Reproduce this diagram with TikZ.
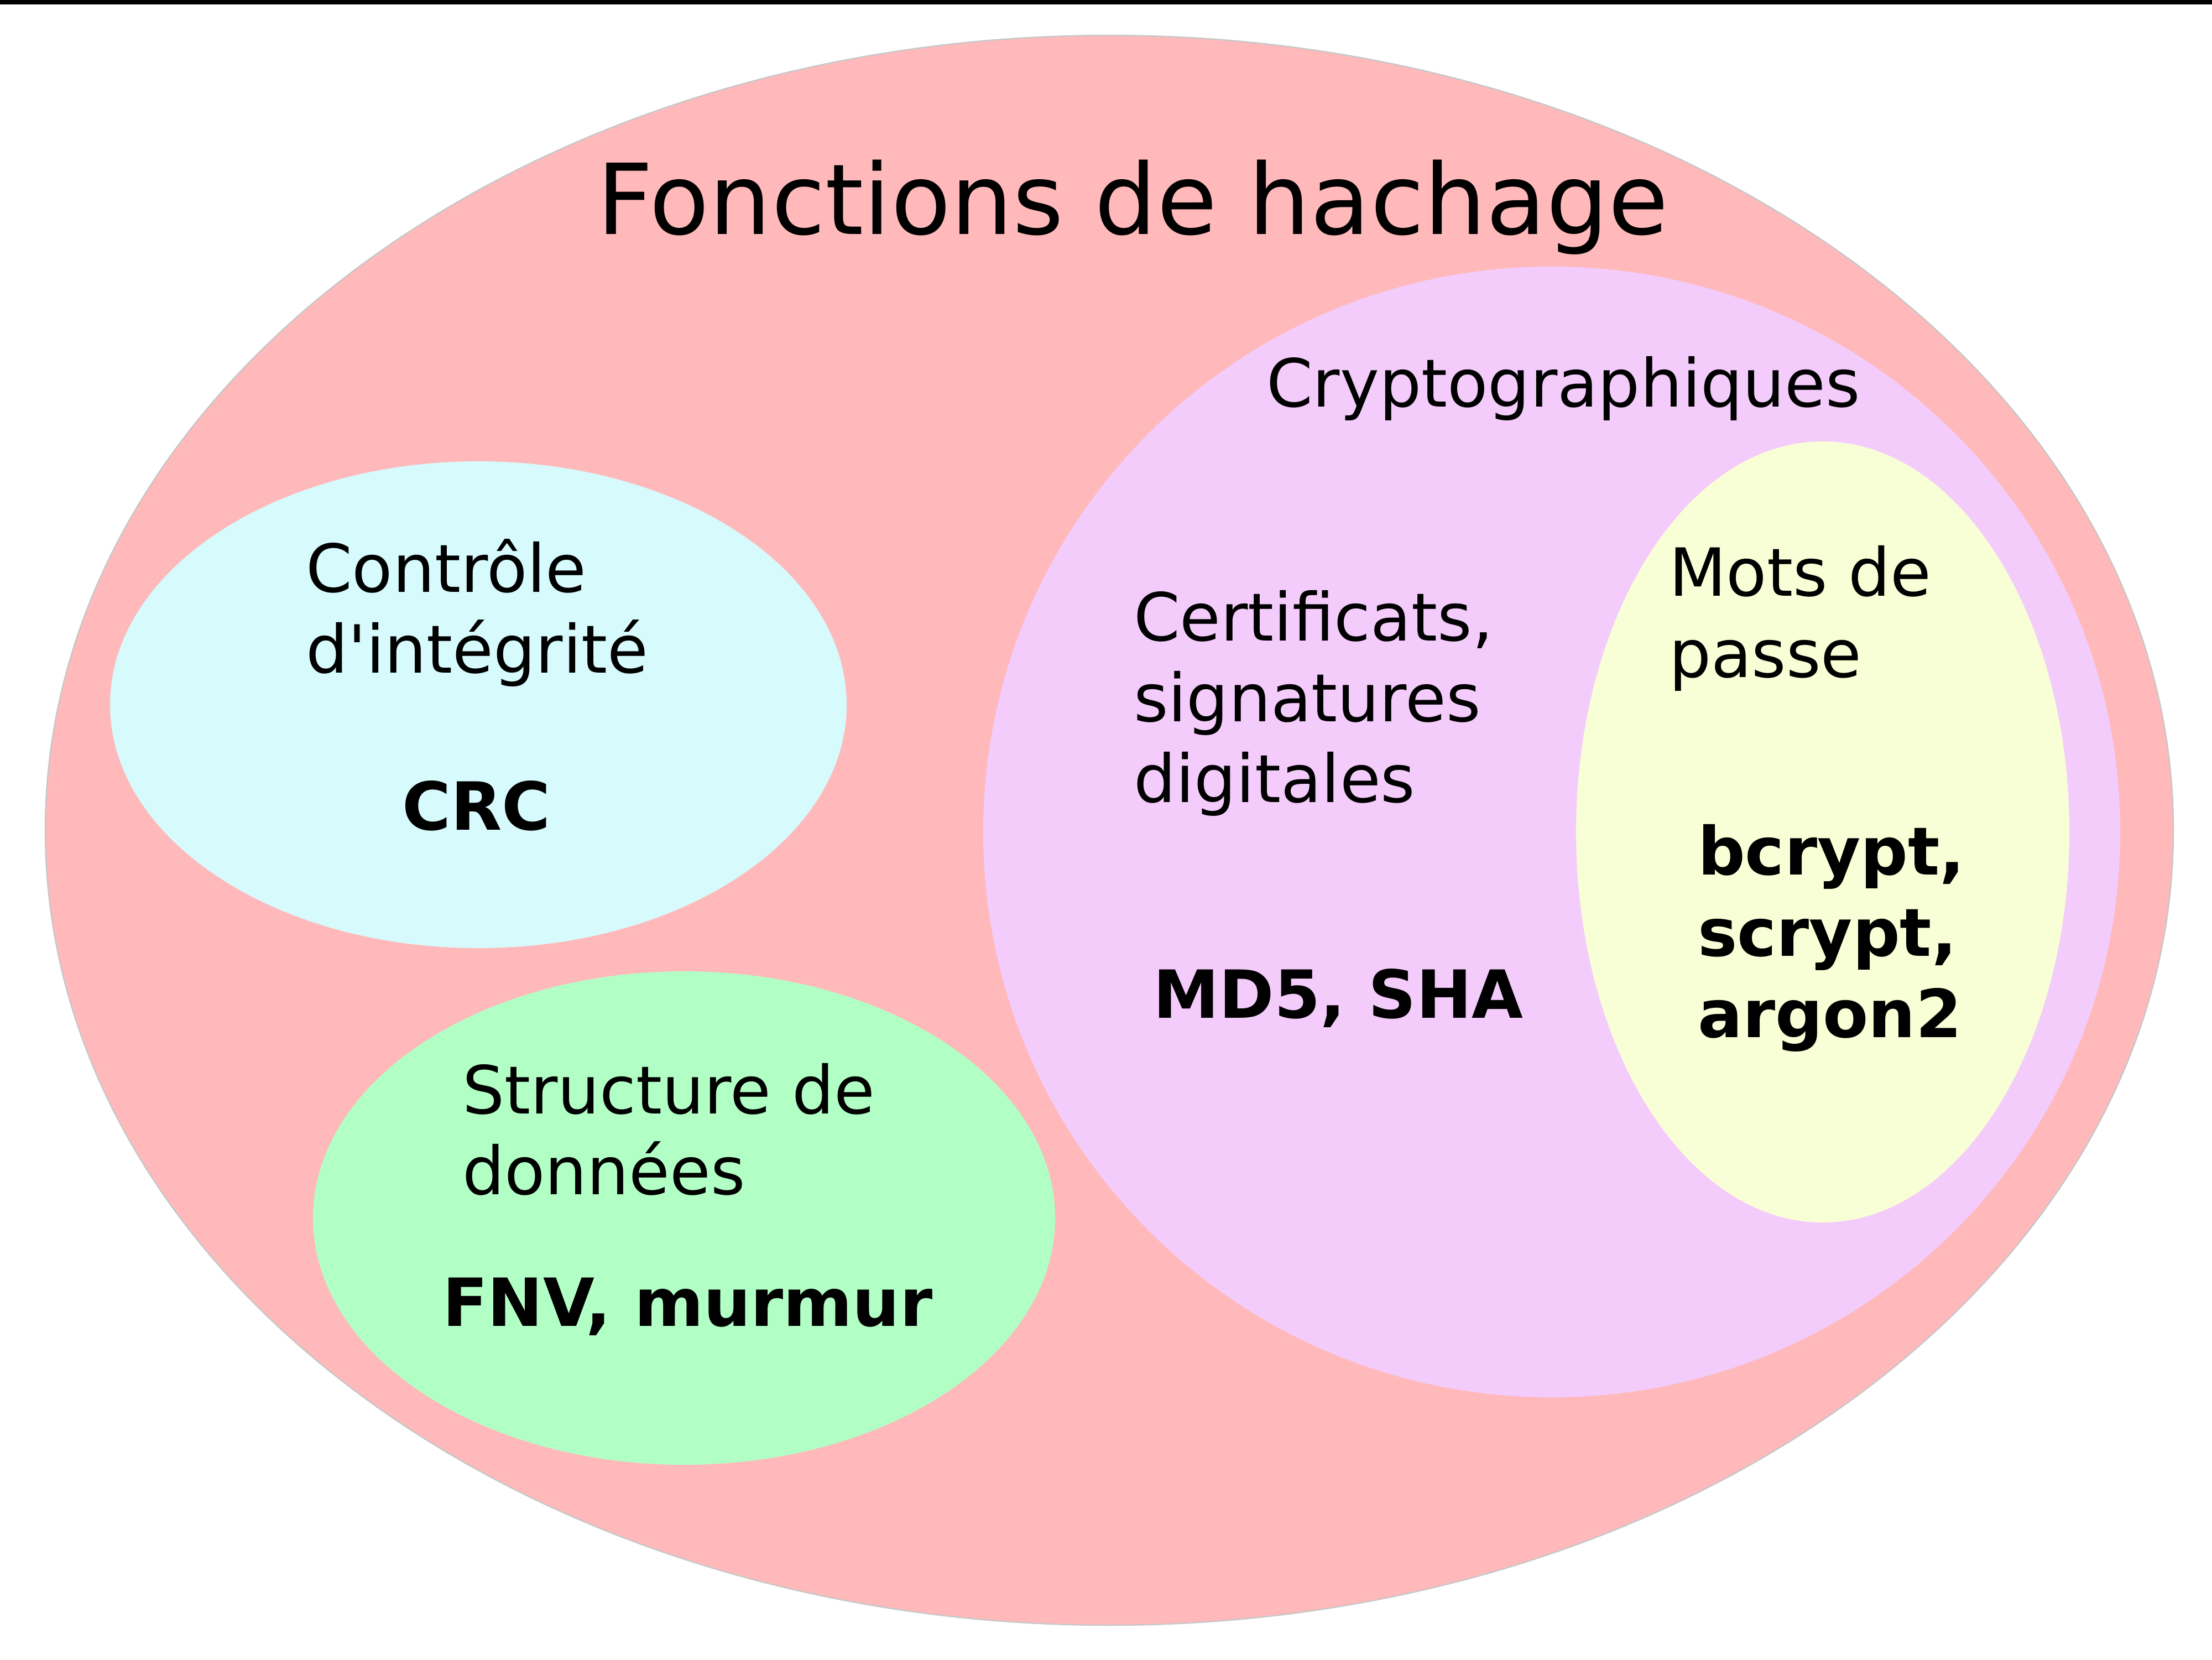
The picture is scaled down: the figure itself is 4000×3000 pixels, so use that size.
\documentclass[tikz,border=0pt]{standalone}
\usepackage{fontspec}
\setmainfont{DejaVu Sans}[Ligatures=TeXOff]
\usetikzlibrary{shapes.geometric}
\definecolor{cpink}{RGB}{255,185,186}
\definecolor{ccyan}{RGB}{215,250,252}
\definecolor{cgreen}{RGB}{178,255,198}
\definecolor{cpurple}{RGB}{244,204,252}
\definecolor{cyellow}{RGB}{248,255,214}
\begin{document}
\begin{tikzpicture}[x=0.25pt,y=-0.25pt,
  blob/.style={ellipse,inner sep=0pt,outer sep=0pt},
  lbl/.style={anchor=base west,inner sep=0pt,outer sep=0pt,font=\fontsize{30}{36.5}\selectfont},
  blbl/.style={lbl,font=\fontsize{30}{36.5}\selectfont\bfseries},
  ttl/.style={anchor=base west,inner sep=0pt,outer sep=0pt,font=\fontsize{44.25}{53}\selectfont}]
\useasboundingbox (0,0) rectangle (4000,3000);
\fill[white] (0,0) rectangle (4000,3000);
\fill[black] (0,0) rectangle (4000,8);
\node[blob,fill=cpink,draw=black!22,line width=0.6pt,minimum width=962pt,minimum height=718.5pt] (outer) at (2006,1501) {};
\node[blob,fill=ccyan,minimum width=333pt,minimum height=220pt] (integ) at (865,1274) {};
\node[blob,fill=cgreen,minimum width=335.5pt,minimum height=223pt] (struct) at (1237,2202) {};
\node[blob,fill=cpurple,minimum width=514pt,minimum height=511pt] (crypto) at (2806,1504) {};
\node[blob,fill=cyellow,minimum width=223pt,minimum height=353pt] (mdp) at (3296,1504) {};
\node[ttl] (title) at (1079,423) {Fonctions de hachage};
\node[lbl] (tcrypto) at (2290,735) {Cryptographiques};
\node[lbl] (tinteg1) at (553,1070) {Contrôle};
\node[lbl] (tinteg2) at (553,1216) {d'intégrité};
\node[blbl] (tcrc) at (727,1500) {CRC};
\node[lbl] (tstruct1) at (836,2013) {Structure de};
\node[lbl] (tstruct2) at (836,2159) {données};
\node[blbl] (tfnv) at (800,2397) {FNV, murmur};
\node[lbl] (tcert1) at (2050,1158) {Certificats,};
\node[lbl] (tcert2) at (2050,1304) {signatures};
\node[lbl] (tcert3) at (2050,1450) {digitales};
\node[blbl] (tmd5) at (2085,1840) {MD5, SHA};
\node[lbl] (tmdp1) at (3018,1077) {Mots de};
\node[lbl] (tmdp2) at (3018,1224) {passe};
\node[blbl] (tb1) at (3070,1581) {bcrypt,};
\node[blbl] (tb2) at (3070,1728) {scrypt,};
\node[blbl] (tb3) at (3070,1875) {argon2};
\end{tikzpicture}
\end{document}
